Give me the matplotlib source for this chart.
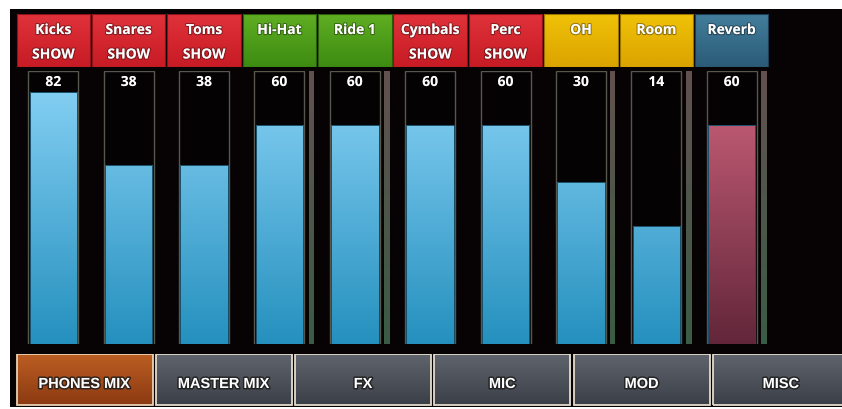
import numpy as np
import matplotlib
matplotlib.use("Agg")
import matplotlib.pyplot as plt
from matplotlib.image import AxesImage
from matplotlib.colors import to_rgb
from matplotlib.patches import Rectangle
from matplotlib.transforms import blended_transform_factory
import matplotlib.patheffects as pe

# ---------------- data ----------------
channels = ["Kicks", "Snares", "Toms", "Hi-Hat", "Ride 1", "Cymbals", "Perc", "OH", "Room", "Reverb"]
levels = [82, 38, 38, 60, 60, 60, 60, 30, 14, 60]
groups = ["red", "red", "red", "green", "green", "red", "red", "yellow", "yellow", "blue"]
show_flags = [True, True, True, False, False, True, True, False, False, False]
meter_strip = [False, False, False, True, True, False, False, True, True, True]
fill_kind = ["blue"] * 9 + ["pink"]
tabs = ["PHONES MIX", "MASTER MIX", "FX", "MIC", "MOD", "MISC"]
active_tab = "PHONES MIX"

# ---------------- styling ----------------
W, H = 842, 410
DX = 75.38          # px per channel
X0 = 53.3           # px centre of first channel
TX = 139.3          # px per tab
T0 = 84.5           # px centre of first tab
Y_FLOOR = -0.937    # fader scale floor
Y_TOP = 98.1        # fader scale top

header_cols = {
    "red": ("#e0323a", "#c71b25", "#8e1218"),
    "green": ("#5fae22", "#3d8b12", "#2a5e0c"),
    "yellow": ("#f0c208", "#dba300", "#9a7400"),
    "blue": ("#427e9c", "#2b5b77", "#1d3e52"),
}
fill_cols = {"blue": ("#8ad3f6", "#2590be"), "pink": ("#d0647e", "#62263a")}

FONT = "Open Sans"


def fx(px):
    return px / W


def fy(py):
    return 1 - py / H


def gradient(ax, patch, top, bottom, z):
    n = 256
    t = np.linspace(1, 0, n)[:, None, None]
    c0 = np.array(to_rgb(top))
    c1 = np.array(to_rgb(bottom))
    arr = t * c0 + (1 - t) * c1
    im = AxesImage(ax, extent=(0, 1, 0, 1), origin="upper",
                   interpolation="bilinear", transform=ax.transAxes, zorder=z)
    im.set_data(arr)
    im.set_clip_path(patch)
    ax.add_image(im)


fig = plt.figure(figsize=(W / 100, H / 100), dpi=100, facecolor="white")
fig.patches.append(Rectangle((fx(10), fy(408)), 832 / W, 398 / H,
                             transform=fig.transFigure, facecolor="#070304",
                             edgecolor="none", zorder=-10))

x = np.arange(len(channels))
xlim = ((10 - X0) / DX, (842 - X0) / DX)

# ---------------- fader axes ----------------
ax = fig.add_axes([fx(10), fy(345), 832 / W, (345 - 72) / H])
ax.set_facecolor("none")
fwd = lambda v: np.sign(v) * np.sqrt(np.abs(v))
inv = lambda u: np.sign(u) * u ** 2
ax.set_yscale("function", functions=(fwd, inv))
ax.set_xlim(*xlim)
ax.set_ylim(Y_FLOOR, Y_TOP)
ax.axis("off")

ax.bar(x, Y_TOP - Y_FLOOR, bottom=Y_FLOOR, width=50 / DX, facecolor="#050203",
       edgecolor="#56574d", linewidth=1.0, zorder=2)

vals = np.array(levels, dtype=float)
fills = ax.bar(x, vals - Y_FLOOR, bottom=Y_FLOOR, width=47.5 / DX,
               facecolor="none", edgecolor="#1a4e66", linewidth=0.7, zorder=4)
for b, kind in zip(fills, fill_kind):
    top, bot = fill_cols[kind]
    gradient(ax, b, top, bot, 3)

xs = x[np.array(meter_strip)] + 31.8 / DX
strips = ax.bar(xs, Y_TOP - Y_FLOOR, bottom=Y_FLOOR, width=5 / DX,
                facecolor="none", edgecolor="none", zorder=4)
for b in strips:
    gradient(ax, b, "#625150", "#3a5c45", 3)

tr = blended_transform_factory(ax.transData, ax.transAxes)
vshadow = [pe.withStroke(linewidth=1.2, foreground=(0, 0, 0, 0.5))]
for xi, v in zip(x, levels):
    ax.text(xi, (345 - 83) / 273, f"{v}", transform=tr, ha="center", va="center",
            color="white", fontsize=10, fontweight="bold", family=FONT, zorder=6,
            path_effects=vshadow)

# ---------------- header axes ----------------
axh = fig.add_axes([fx(10), fy(68), 832 / W, 53 / H])
axh.set_facecolor("none")
axh.set_xlim(*xlim)
axh.set_ylim(0, 1)
axh.axis("off")
heads = axh.bar(x, 1, bottom=0, width=73.5 / DX, facecolor="none",
                edgecolor=[header_cols[g][2] for g in groups], linewidth=0.8, zorder=3)
for b, g in zip(heads, groups):
    top, bot, _ = header_cols[g]
    gradient(axh, b, top, bot, 2)
shadow = [pe.withStroke(linewidth=1.6, foreground=(0, 0, 0, 0.35))]
for xi, name, s in zip(x, channels, show_flags):
    axh.text(xi, (68 - 31) / 53, name, ha="center", va="center", color="white",
             fontsize=10, fontweight="bold", family=FONT, zorder=5, path_effects=shadow)
    if s:
        axh.text(xi, (68 - 55.5) / 53, "SHOW", ha="center", va="center", color="white",
                 fontsize=10, fontweight="bold", family=FONT, zorder=5, path_effects=shadow)

# ---------------- tab axes ----------------
axt = fig.add_axes([fx(10), fy(407), 832 / W, (407 - 355) / H])
axt.set_facecolor("none")
axt.set_xlim((10 - T0) / TX, (842 - T0) / TX)
axt.set_ylim(0, 1)
axt.axis("off")
tx = np.arange(len(tabs))
tbars = axt.bar(tx, 0.98, bottom=0.02, width=136 / TX, facecolor="none",
                edgecolor=["#ead2b4" if t == active_tab else "#e4dccb" for t in tabs],
                linewidth=1.3, zorder=3)
for b, t in zip(tbars, tabs):
    if t == active_tab:
        gradient(axt, b, "#bc5e22", "#8a3912", 2)
    else:
        gradient(axt, b, "#60646c", "#3a3e46", 2)
tshadow = [pe.withStroke(linewidth=2.2, foreground=(0.1, 0.1, 0.1, 0.8))]
for ti, t in zip(tx, tabs):
    axt.text(ti, (407 - 385) / 52, t, ha="center", va="center", color="white",
             fontsize=10.5, fontweight="bold", family="Liberation Sans", zorder=5,
             path_effects=tshadow)

fig.savefig("out.png", dpi=100, facecolor="white")
